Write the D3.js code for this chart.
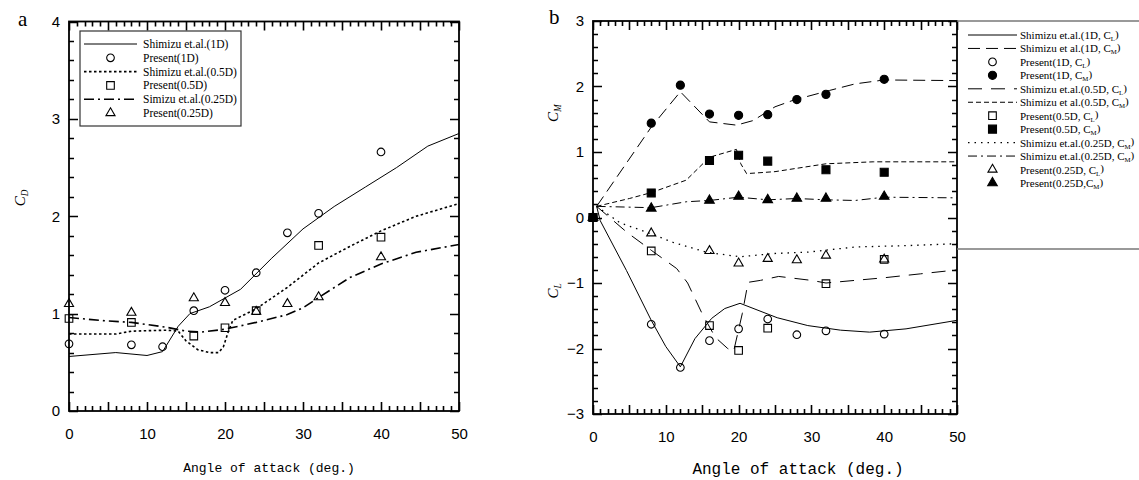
<!DOCTYPE html>
<html>
<head>
<meta charset="utf-8">
<script src="https://cdn.jsdelivr.net/npm/d3@7/dist/d3.min.js"></script>
<style>
  body { margin: 0; background: #fff; }
  svg { display: block; }
</style>
</head>
<body>
<svg width="1139" height="480"></svg>
<script>
// ---------- panel a : drag coefficient ----------
const aoaSh1D   = [0, 6, 10, 12, 14, 15.5, 18, 22, 26, 30, 34, 38, 42, 46, 50];
const cdSh1D    = [0.56, 0.60, 0.57, 0.61, 0.87, 1.00, 1.07, 1.25, 1.57, 1.87, 2.10, 2.30, 2.50, 2.72, 2.85];
const aoaSh05D  = [0, 6, 8, 12.5, 14, 15, 16.5, 18, 19.2, 19.8, 20.4, 21, 24, 28, 32, 36, 40, 44.5, 50];
const cdSh05D   = [0.79, 0.79, 0.82, 0.83, 0.82, 0.72, 0.63, 0.60, 0.60, 0.66, 0.81, 0.93, 1.05, 1.27, 1.52, 1.69, 1.85, 2.00, 2.13];
const aoaSh025D = [0, 4, 8, 12.5, 15, 17, 20, 24, 28, 30, 32, 36, 40, 44.5, 50];
const cdSh025D  = [0.96, 0.93, 0.91, 0.86, 0.82, 0.81, 0.84, 0.91, 0.99, 1.06, 1.165, 1.37, 1.51, 1.63, 1.71];

const aoaP1D  = [0, 8, 12, 16, 20, 24, 28, 32, 40];
const cdP1D   = [0.69, 0.68, 0.66, 1.03, 1.24, 1.42, 1.83, 2.03, 2.66];
const aoaP05D = [0, 8, 16, 20, 24, 32, 40];
const cdP05D  = [0.95, 0.91, 0.77, 0.855, 1.03, 1.70, 1.785];
const aoaP025D = [0, 8, 16, 20, 24, 28, 32, 40];
const cdP025D  = [1.10, 1.01, 1.16, 1.11, 1.02, 1.10, 1.17, 1.58];

const legendA = ['Shimizu et.al.(1D)', 'Present(1D)', 'Shimizu et.al.(0.5D)',
                 'Present(0.5D)', 'Simizu et.al.(0.25D)', 'Present(0.25D)'];

// ---------- panel b : lift and moment coefficients ----------
const aoaShCL1D = [0.5, 1, 4.6, 8, 10, 12, 14, 16.3, 18.1, 20.2, 25.3, 29.5, 34, 38, 43, 50];
const clSh1D    = [0.17, -0.05, -0.81, -1.57, -1.97, -2.28, -1.85, -1.54, -1.39, -1.31, -1.53, -1.65, -1.72, -1.75, -1.70, -1.57];
const aoaShCM1D = [0.5, 8, 12, 16, 19.7, 22, 25, 27.5, 32.5, 36, 40, 50];
const cmSh1D    = [0.17, 1.38, 1.92, 1.46, 1.41, 1.48, 1.69, 1.79, 1.94, 2.04, 2.10, 2.09];
const aoaShCL05D = [0.5, 4.7, 8, 11.5, 13, 15, 16.8, 18.5, 19.3, 20.5, 21.3, 23, 25.5, 30, 32, 36, 40, 45, 50];
const clSh05D    = [0.17, -0.23, -0.50, -0.78, -1.00, -1.47, -1.83, -2.00, -2.05, -1.47, -0.99, -0.96, -0.90, -0.96, -1.00, -0.96, -0.92, -0.86, -0.80];
const aoaShCM05D = [0.5, 5, 8, 12.8, 16, 19.7, 20.3, 21.1, 25, 32, 38.5, 50];
const cmSh05D    = [0.17, 0.29, 0.38, 0.57, 0.92, 1.04, 0.82, 0.67, 0.70, 0.82, 0.85, 0.85];
const aoaShCL025D = [0.5, 3.7, 8, 11, 15.6, 20.2, 24.8, 29.4, 36, 43, 50];
const clSh025D    = [0.17, -0.08, -0.25, -0.38, -0.53, -0.60, -0.55, -0.53, -0.45, -0.43, -0.40];
const aoaShCM025D = [0.5, 8, 12.8, 16, 20, 24, 28, 32, 36, 40, 50];
const cmSh025D    = [0.17, 0.15, 0.24, 0.26, 0.31, 0.27, 0.29, 0.27, 0.26, 0.31, 0.30];

const clP1D   = [0, -1.63, -2.29, -1.88, -1.70, -1.55, -1.79, -1.73, -1.78];
const cmP1D   = [0, 1.44, 2.02, 1.58, 1.56, 1.57, 1.80, 1.88, 2.11];
const clP05D  = [0, -0.51, -1.65, -2.03, -1.69, -1.01, -0.64];
const cmP05D  = [0, 0.375, 0.87, 0.95, 0.86, 0.73, 0.69];
const clP025D = [0, -0.24, -0.51, -0.70, -0.63, -0.65, -0.58, -0.64];
const cmP025D = [0, 0.14, 0.26, 0.32, 0.27, 0.29, 0.29, 0.32];

const legendB = ['Shimizu et.al.(1D, C_L)', 'Shimizu et al.(1D, C_M)', 'Present(1D, C_L)', 'Present(1D, C_M)',
                 'Shimizu et.al.(0.5D, C_L)', 'Shimizu et al.(0.5D, C_M)', 'Present(0.5D, C_L)', 'Present(0.5D, C_M)',
                 'Shimizu et.al.(0.25D, C_M)', 'Shimizu et.al.(0.25D, C_M)', 'Present(0.25D, C_L)', 'Present(0.25D,C_M)'];

const svg = d3.select('svg');
const serif = "'Liberation Serif', 'Times New Roman', serif";
const sans = "'Liberation Sans', Arial, sans-serif";
const mono = "'Liberation Mono', 'DejaVu Sans Mono', monospace";

// line styles and marker styles
const solid = {dash: null, w: 1};
const styles = {
  a1: solid, a05: {dash: '2.5,2.5', w: 1.6}, a025: {dash: '10,4,2,4', w: 1.6},
  cl1: solid, cm1: {dash: '12,6', w: 1}, cl05: {dash: '14,9', w: 1}, cm05: {dash: '5,3', w: 1},
  cl025: {dash: '1.5,5', w: 1.3}, cm025: {dash: '9,4,2,4', w: 1}
};
const mk = {
  circ:  {type: d3.symbolCircle, size: 46, fill: false},
  circF: {type: d3.symbolCircle, size: 52, fill: true},
  sq:    {type: d3.symbolSquare, size: 58, fill: false},
  sqF:   {type: d3.symbolSquare, size: 64, fill: true},
  tri:   {type: d3.symbolTriangle, size: 36, fill: false},
  triF:  {type: d3.symbolTriangle, size: 40, fill: true}
};

// frame with inward ticks on all four sides
function frame(g, x, y, yStep, yMinorStep) {
  const [x0, x1] = x.range();
  const [yB, yT] = y.range();
  const [d0, d1] = y.domain();
  const xMinor = d3.range(0, 51, 1);
  const yMinor = d3.range(d0, d1 + 1e-6, yMinorStep).map(v => +v.toFixed(2));
  const yMajor = d3.range(d0, d1 + 1e-6, yStep);
  const p = d3.path();
  xMinor.forEach(v => {
    const len = v % 5 === 0 ? 9 : 5;
    const xx = Math.round(x(v)) + 0.5;
    p.moveTo(xx, yB); p.lineTo(xx, yB - len);
    p.moveTo(xx, yT); p.lineTo(xx, yT + len);
  });
  yMinor.forEach(v => {
    const len = Math.abs(v - Math.round(v)) < 1e-6 ? 9 : 5;
    const yy = Math.round(y(v)) + 0.5;
    p.moveTo(x0, yy); p.lineTo(x0 + len, yy);
    p.moveTo(x1, yy); p.lineTo(x1 - len, yy);
  });
  g.append('path').attr('d', p.toString()).attr('fill', 'none')
    .attr('stroke', '#000').attr('stroke-width', 1.6);
  g.append('rect').attr('x', x0).attr('y', yT).attr('width', x1 - x0).attr('height', yB - yT)
    .attr('fill', 'none').attr('stroke', '#000').attr('stroke-width', 1.8);

  // tick labels
  const xl = g.append('g').attr('transform', `translate(0,${yB})`)
    .call(d3.axisBottom(x).tickValues(d3.range(0, 51, 10)).tickSize(0).tickPadding(17));
  const yl = g.append('g').attr('transform', `translate(${x0},0)`)
    .call(d3.axisLeft(y).tickValues(yMajor).tickSize(0).tickPadding(9).tickFormat(d3.format('d')));
  [xl, yl].forEach(s => {
    s.select('.domain').remove();
    s.selectAll('text').attr('font-family', sans).attr('font-size', 15).attr('fill', '#000');
  });
}

function drawLine(g, x, y, xs, ys, st) {
  const line = d3.line().x(d => x(d[0])).y(d => y(d[1]));
  g.append('path').datum(d3.zip(xs, ys)).attr('d', line)
    .attr('fill', 'none').attr('stroke', '#000').attr('stroke-width', st.w)
    .attr('stroke-dasharray', st.dash);
}

function drawMarks(g, x, y, xs, ys, m) {
  g.append('g').selectAll('path').data(d3.zip(xs, ys)).join('path')
    .attr('transform', d => `translate(${x(d[0])},${y(d[1])})`)
    .attr('d', d3.symbol().type(m.type).size(m.size))
    .attr('fill', m.fill ? '#000' : 'none').attr('stroke', '#000').attr('stroke-width', 1.1);
}

function subText(sel, label) {
  label.split(/_(\w)/).forEach((part, i) => {
    if (!part) return;
    const t = sel.append('tspan').text(part);
    if (i % 2 === 1) t.attr('font-size', '0.62em').attr('dy', '0.3em');
    else if (i > 0) t.attr('dy', '-0.3em');
  });
}

function legendSample(g, x0, x1, yy, item) {
  if (item.line) {
    g.append('line').attr('x1', x0).attr('x2', x1).attr('y1', yy).attr('y2', yy)
      .attr('stroke', '#000').attr('stroke-width', item.line.w).attr('stroke-dasharray', item.line.dash);
  } else {
    g.append('path').attr('transform', `translate(${(x0 + x1) / 2},${yy})`)
      .attr('d', d3.symbol().type(item.mark.type).size(item.mark.size))
      .attr('fill', item.mark.fill ? '#000' : 'none').attr('stroke', '#000').attr('stroke-width', 1.1);
  }
}

// ================= panel a =================
const xa = d3.scaleLinear().domain([0, 50]).range([69, 459]);
const ya = d3.scaleLinear().domain([0, 4]).range([411, 21.5]);
const ga = svg.append('g');
frame(ga, xa, ya, 1, 0.2);

drawLine(ga, xa, ya, aoaSh1D, cdSh1D, styles.a1);
drawLine(ga, xa, ya, aoaSh05D, cdSh05D, styles.a05);
drawLine(ga, xa, ya, aoaSh025D, cdSh025D, styles.a025);
drawMarks(ga, xa, ya, aoaP1D, cdP1D, mk.circ);
drawMarks(ga, xa, ya, aoaP05D, cdP05D, mk.sq);
drawMarks(ga, xa, ya, aoaP025D, cdP025D, mk.tri);

// legend a
ga.append('rect').attr('x', 80).attr('y', 31).attr('width', 161).attr('height', 95)
  .attr('fill', '#fff').attr('stroke', '#333').attr('stroke-width', 1.2);
const itemsA = [{line: styles.a1}, {mark: mk.circ}, {line: styles.a05}, {mark: mk.sq}, {line: styles.a025}, {mark: mk.tri}];
legendA.forEach((lab, i) => {
  const yy = 44 + i * 13.8;
  legendSample(ga, 84, 137, yy, itemsA[i]);
  ga.append('text').attr('x', 143).attr('y', yy + 4).attr('font-family', serif).attr('font-size', 11.5)
    .text(lab);
});

ga.append('text').attr('x', 18).attr('y', 26).attr('font-family', serif).attr('font-size', 21).text('a');
const cdLab = ga.append('text').attr('transform', 'translate(25,198) rotate(-90)').attr('text-anchor', 'middle')
  .attr('font-family', serif).attr('font-style', 'italic').attr('font-size', 15);
subText(cdLab, 'C_D');
ga.append('text').attr('x', 269).attr('y', 472).attr('text-anchor', 'middle')
  .attr('font-family', mono).attr('font-size', 13).text('Angle of attack (deg.)');

// ================= panel b =================
const xb = d3.scaleLinear().domain([0, 50]).range([593, 957]);
const yb = d3.scaleLinear().domain([-3, 3]).range([414, 21]);
const gb = svg.append('g');
frame(gb, xb, yb, 1, 0.2);

drawLine(gb, xb, yb, aoaShCL1D, clSh1D, styles.cl1);
drawLine(gb, xb, yb, aoaShCM1D, cmSh1D, styles.cm1);
drawLine(gb, xb, yb, aoaShCL05D, clSh05D, styles.cl05);
drawLine(gb, xb, yb, aoaShCM05D, cmSh05D, styles.cm05);
drawLine(gb, xb, yb, aoaShCL025D, clSh025D, styles.cl025);
drawLine(gb, xb, yb, aoaShCM025D, cmSh025D, styles.cm025);

drawMarks(gb, xb, yb, aoaP1D, clP1D, mk.circ);
drawMarks(gb, xb, yb, aoaP05D, clP05D, mk.sq);
drawMarks(gb, xb, yb, aoaP025D, clP025D, mk.tri);
drawMarks(gb, xb, yb, aoaP1D, cmP1D, mk.circF);
drawMarks(gb, xb, yb, aoaP025D, cmP025D, mk.triF);
drawMarks(gb, xb, yb, aoaP05D, cmP05D, mk.sqF);

// legend b: only top and bottom rules
[21, 249].forEach(yy => gb.append('line').attr('x1', 957).attr('x2', 1139).attr('y1', yy).attr('y2', yy)
  .attr('stroke', '#777').attr('stroke-width', 1.5));
const itemsB = [{line: styles.cl1}, {line: styles.cm1}, {mark: mk.circ}, {mark: mk.circF},
                {line: styles.cl05}, {line: styles.cm05}, {mark: mk.sq}, {mark: mk.sqF},
                {line: styles.cl025}, {line: styles.cm025}, {mark: mk.tri}, {mark: mk.triF}];
legendB.forEach((lab, i) => {
  const yy = 35 + i * 13.45;
  legendSample(gb, 968, 1017, yy, itemsB[i]);
  const t = gb.append('text').attr('x', 1020).attr('y', yy + 4).attr('font-family', serif).attr('font-size', 11);
  subText(t, lab);
});

gb.append('text').attr('x', 549).attr('y', 24).attr('font-family', serif).attr('font-size', 21).text('b');
const cmLab = gb.append('text').attr('transform', 'translate(558,113) rotate(-90)').attr('text-anchor', 'middle')
  .attr('font-family', serif).attr('font-style', 'italic').attr('font-size', 15);
subText(cmLab, 'C_M');
const clLab = gb.append('text').attr('transform', 'translate(558,291) rotate(-90)').attr('text-anchor', 'middle')
  .attr('font-family', serif).attr('font-style', 'italic').attr('font-size', 15);
subText(clLab, 'C_L');
gb.append('text').attr('x', 798).attr('y', 474).attr('text-anchor', 'middle')
  .attr('font-family', mono).attr('font-size', 16).text('Angle of attack (deg.)');
</script>
</body>
</html>
